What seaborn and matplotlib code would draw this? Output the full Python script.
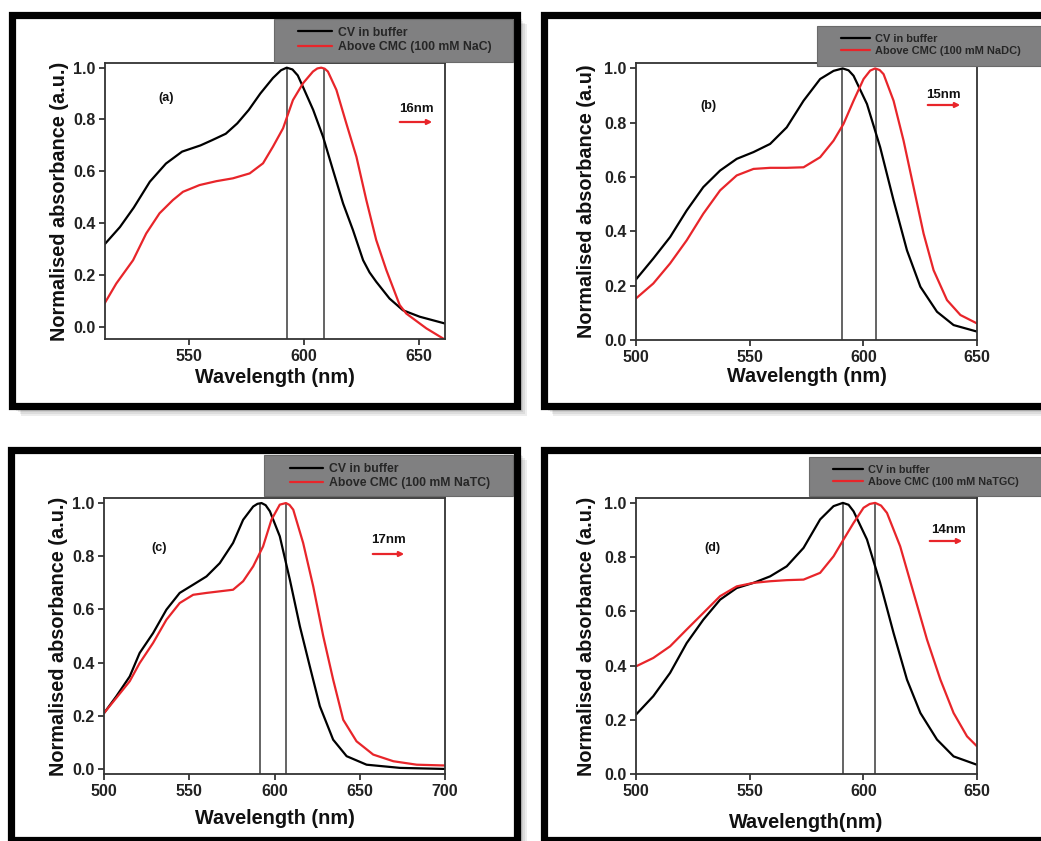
import matplotlib
matplotlib.use("Agg")
import matplotlib.pyplot as plt
import seaborn as sns
import pandas as pd
from matplotlib.patches import Rectangle, FancyArrowPatch

sns.set_theme(style="ticks")
plt.rcParams['font.family'] = ['Liberation Sans', 'DejaVu Sans']

W, H = 1041, 841
RED = '#e8252a'

# ---- data ----
# (a) NaC
a_wl_black = [513.5, 520, 526, 533, 540, 547, 555, 560, 566, 571, 576, 581, 586.5, 590, 592.5, 595, 597.3,
              599.5, 604, 608.3, 612.6, 617, 621.3, 625.7, 628.5, 631.4, 637.2, 643, 650.3, 661.2]
a_black = [0.32, 0.385, 0.46, 0.56, 0.63, 0.676, 0.70, 0.72, 0.745, 0.785, 0.837, 0.90, 0.96, 0.99, 1.0, 0.993,
           0.97, 0.927, 0.837, 0.733, 0.605, 0.476, 0.373, 0.257, 0.21, 0.174, 0.109, 0.064, 0.039, 0.013]
a_wl_red = [513.3, 518.4, 525.7, 531.4, 537.2, 543, 547.4, 554.6, 561.9, 569.1, 576.4, 582.2, 586.5, 590.9,
            595.2, 599.6, 603.9, 605.8, 607.5, 609.0, 610.4, 614.1, 618.4, 622.8, 627.1, 631.4, 635.8, 641.6,
            644.5, 653.2, 661.2]
a_red = [0.09, 0.167, 0.257, 0.36, 0.438, 0.489, 0.521, 0.547, 0.562, 0.573, 0.592, 0.631, 0.695, 0.766,
         0.875, 0.94, 0.985, 0.997, 1.0, 0.996, 0.985, 0.914, 0.785, 0.656, 0.489, 0.335, 0.219, 0.084,
         0.051, -0.006, -0.049]
a_peaks = [592.5, 608.5]

# (b) NaDC
b_wl_black = [500, 507.6, 515, 522.3, 529.6, 537, 544.3, 551.7, 559, 566.3, 573.7, 581, 586.9, 590.9,
              593.5, 595.7, 601.6, 607.4, 613.3, 619.2, 625.1, 632.4, 639.7, 650]
b_black = [0.223, 0.30, 0.379, 0.477, 0.563, 0.624, 0.667, 0.692, 0.722, 0.783, 0.881, 0.961, 0.991, 1.0,
           0.993, 0.973, 0.869, 0.71, 0.514, 0.33, 0.196, 0.104, 0.055, 0.031]
b_wl_red = [500, 507.6, 515, 522.3, 529.6, 537, 544.3, 551.7, 559, 566.3, 573.7, 581, 586.9, 591.3, 595.7,
            600.1, 603.0, 605.2, 607.2, 608.9, 613.3, 617.7, 622.1, 626.5, 630.9, 636.8, 642.7, 650]
b_red = [0.153, 0.208, 0.282, 0.367, 0.465, 0.551, 0.606, 0.63, 0.634, 0.634, 0.636, 0.673, 0.734, 0.796, 0.881,
         0.961, 0.992, 1.0, 0.994, 0.979, 0.881, 0.734, 0.563, 0.392, 0.257, 0.147, 0.092, 0.061]
b_peaks = [590.7, 605.7]

# (c) NaTC
c_wl_black = [500, 507.2, 515.1, 520.9, 528.8, 536.6, 544.4, 552.3, 560.1, 567.9, 575.7, 581.6, 587.5, 590.0,
              592.4, 594.8, 597.3, 603.1, 609, 614.9, 620.7, 626.6, 634.4, 642.3, 654, 673.6, 700]
c_black = [0.21, 0.273, 0.348, 0.436, 0.511, 0.599, 0.662, 0.693, 0.724, 0.774, 0.85, 0.937, 0.987, 0.997,
           1.0, 0.992, 0.969, 0.875, 0.712, 0.536, 0.386, 0.236, 0.11, 0.048, 0.016, 0.004, 0.0]
c_wl_red = [500, 507.2, 515.1, 520.9, 528.8, 536.6, 544.4, 552.3, 560.1, 567.9, 575.7, 581.6, 587.5, 593.3,
            598.2, 603.1, 606.7, 608.8, 611, 616.8, 622.7, 628.6, 634.4, 640.3, 648.1, 657.9, 669.7, 683.4, 700]
c_red = [0.21, 0.267, 0.33, 0.398, 0.474, 0.561, 0.624, 0.655, 0.662, 0.668, 0.674, 0.706, 0.762, 0.837,
         0.937, 0.994, 1.0, 0.993, 0.975, 0.85, 0.687, 0.499, 0.336, 0.185, 0.104, 0.054, 0.029, 0.016, 0.013]
c_peaks = [591.5, 606.7]

# (d) NaTGC
d_wl_black = [500, 507.6, 515, 522.3, 529.6, 537, 544.3, 551.7, 559, 566.3, 573.7, 581, 586.9, 591,
              593.5, 595.7, 601.6, 607.4, 613.3, 619.2, 625.1, 632.4, 639.7, 650]
d_black = [0.219, 0.287, 0.373, 0.483, 0.569, 0.643, 0.686, 0.705, 0.729, 0.766, 0.834, 0.939, 0.988, 1.0,
           0.993, 0.969, 0.865, 0.705, 0.52, 0.348, 0.225, 0.127, 0.065, 0.034]
d_wl_red = [500, 507.6, 515, 522.3, 529.6, 537, 544.3, 551.7, 559, 566.3, 573.7, 581, 586.9, 591.3, 595.7,
            600.1, 602.8, 605.2, 607.8, 610.4, 616.2, 622.1, 628, 633.9, 639.7, 645.6, 650]
d_red = [0.397, 0.428, 0.471, 0.533, 0.594, 0.656, 0.692, 0.705, 0.711, 0.715, 0.717, 0.742, 0.803, 0.865,
         0.926, 0.982, 0.996, 1.0, 0.99, 0.963, 0.84, 0.668, 0.496, 0.348, 0.225, 0.139, 0.102]
d_peaks = [591.0, 605.2]

panels = [
    dict(tag='(a)', shift='16nm', salt='NaC', ylab='Normalised absorbance (a.u.)', xlab='Wavelength (nm)',
         wb=a_wl_black, yb=a_black, wr=a_wl_red, yr=a_red, peaks=a_peaks,
         box=(105, 63, 445, 339), xlim=(513.5, 661.3), ylim=(-0.047, 1.018), xticks=[550, 600, 650],
         frame=(11.5, 14.5, 517, 406), shadow=True,
         leg_box=(274, 19, 513, 62), leg_anchor=(298, 40), leg_fs=8.8, leg_hl=2.8, leg_sp=0.2,
         tag_xy=(166, 98), shift_xy=(416, 109), arrow=(397, 435, 122), ylab_x=-0.105, xlab_y=-0.105),
    dict(tag='(b)', shift='15nm', salt='NaDC', ylab='Normalised absorbance (a.u)', xlab='Wavelength (nm)',
         wb=b_wl_black, yb=b_black, wr=b_wl_red, yr=b_red, peaks=b_peaks,
         box=(636, 63, 977, 340), xlim=(500, 650), ylim=(0, 1.02), xticks=[500, 550, 600, 650],
         frame=(543.5, 15, 1047, 406), shadow=True,
         leg_box=(817, 26, 1045, 66), leg_anchor=(841, 45), leg_fs=7.9, leg_hl=2.6, leg_sp=0.15,
         tag_xy=(708, 106), shift_xy=(943, 95), arrow=(925, 963, 105), ylab_x=-0.118, xlab_y=-0.098),
    dict(tag='(c)', shift='17nm', salt='NaTC', ylab='Normalised absorbance (a.u.)', xlab='Wavelength (nm)',
         wb=c_wl_black, yb=c_black, wr=c_wl_red, yr=c_red, peaks=c_peaks,
         box=(104, 498, 445, 774), xlim=(500, 700), ylim=(-0.019, 1.019), xticks=[500, 550, 600, 650, 700],
         frame=(11, 450, 517, 840), shadow=True,
         leg_box=(264, 455, 513, 496), leg_anchor=(290, 476), leg_fs=8.8, leg_hl=2.7, leg_sp=0.2,
         tag_xy=(159, 548), shift_xy=(388, 540), arrow=(370, 407, 554), ylab_x=-0.105, xlab_y=-0.125),
    dict(tag='(d)', shift='14nm', salt='NaTGC', ylab='Normalised absorbance (a.u.)', xlab='Wavelength(nm)',
         wb=d_wl_black, yb=d_black, wr=d_wl_red, yr=d_red, peaks=d_peaks,
         box=(636, 498, 977, 774), xlim=(500, 650), ylim=(0, 1.018), xticks=[500, 550, 600, 650],
         frame=(543.5, 450, 1047, 840), shadow=False,
         leg_box=(809, 457, 1045, 496), leg_anchor=(833, 476), leg_fs=7.8, leg_hl=2.75, leg_sp=0.15,
         tag_xy=(712, 548), shift_xy=(948, 530), arrow=(927, 965, 541), ylab_x=-0.118, xlab_y=-0.14),
]


def fx(x):
    return x / W


def fy(y):
    return 1 - y / H


fig = plt.figure(figsize=(W / 100, H / 100), dpi=100)
fig.patch.set_facecolor('white')

for p in panels:
    # frame with soft shadow
    x0, y0, x1, y1 = p['frame']
    if p['shadow']:
        for k in range(1, 7):
            fig.add_artist(Rectangle((fx(x0 + 1.6 * k), fy(y1 + 1.6 * k)), (x1 - x0) / W, (y1 - y0) / H,
                                     transform=fig.transFigure, facecolor='black', edgecolor='none',
                                     alpha=0.07, zorder=-3))
    fig.add_artist(Rectangle((fx(x0), fy(y1)), (x1 - x0) / W, (y1 - y0) / H, transform=fig.transFigure,
                             facecolor='white', edgecolor='black', lw=5.2, zorder=-2))

    l, t, r, b = p['box']
    ax = fig.add_axes([fx(l), fy(b), (r - l) / W, (b - t) / H])
    ax.set_facecolor('white')

    df_b = pd.DataFrame({'wl': p['wb'], 'abs': p['yb']})
    df_r = pd.DataFrame({'wl': p['wr'], 'abs': p['yr']})
    sns.lineplot(data=df_b, x='wl', y='abs', ax=ax, color='black', lw=1.6, sort=False, estimator=None,
                 label='CV in buffer', legend=False, solid_joinstyle='round')
    sns.lineplot(data=df_r, x='wl', y='abs', ax=ax, color=RED, lw=1.6, sort=False, estimator=None,
                 label='Above CMC (100 mM %s)' % p['salt'], legend=False, solid_joinstyle='round')

    ax.set_xlim(*p['xlim'])
    ax.set_ylim(*p['ylim'])
    ax.vlines(p['peaks'], p['ylim'][0], 1.0, color='#3a3a3a', lw=1.1, zorder=1)

    ax.set_xticks(p['xticks'])
    ax.set_yticks([0.0, 0.2, 0.4, 0.6, 0.8, 1.0])
    ax.set_yticklabels(['0.0', '0.2', '0.4', '0.6', '0.8', '1.0'])
    ax.tick_params(direction='out', length=4, width=1.2, labelsize=11.5, pad=3, colors='#222222')
    for lab in ax.get_xticklabels() + ax.get_yticklabels():
        lab.set_fontweight('bold')
    for s in ax.spines.values():
        s.set_linewidth(1.3)
        s.set_color('#333333')

    ax.set_ylabel(p['ylab'], fontsize=14.3, fontweight='bold', color='#111111')
    ax.set_xlabel(p['xlab'], fontsize=14.3, fontweight='bold', color='#111111')
    ax.yaxis.set_label_coords(p['ylab_x'], 0.5)
    ax.xaxis.set_label_coords(0.5, p['xlab_y'])

    # legend on grey banner
    lx0, ly0, lx1, ly1 = p['leg_box']
    fig.add_artist(Rectangle((fx(lx0), fy(ly1)), (lx1 - lx0) / W, (ly1 - ly0) / H, transform=fig.transFigure,
                             facecolor='#808081', edgecolor='#6a6a6a', lw=0.8, zorder=5))
    handles = ax.get_lines()[:2]
    leg = fig.legend(handles, [h.get_label() for h in handles], loc='center left',
                     bbox_to_anchor=(fx(p['leg_anchor'][0]), fy(p['leg_anchor'][1])),
                     frameon=False, borderpad=0, borderaxespad=0, handlelength=p['leg_hl'],
                     handletextpad=0.5, labelspacing=p['leg_sp'],
                     prop={'weight': 'bold', 'size': p['leg_fs']})
    leg.set_zorder(6)

    # panel tag, shift label and arrow
    fig.text(fx(p['tag_xy'][0]), fy(p['tag_xy'][1]), p['tag'], ha='center', va='center',
             fontsize=9, fontweight='bold', color='#111111')
    fig.text(fx(p['shift_xy'][0]), fy(p['shift_xy'][1]), p['shift'], ha='center', va='center',
             fontsize=9.5, fontweight='bold', color='#111111')
    ax0, ax1, ay = p['arrow']
    fig.add_artist(FancyArrowPatch((fx(ax0), fy(ay)), (fx(ax1), fy(ay)),
                                   transform=fig.transFigure, arrowstyle='-|>',
                                   mutation_scale=7, color=RED, lw=1.6, zorder=6))

fig.savefig('out.png', dpi=100)
